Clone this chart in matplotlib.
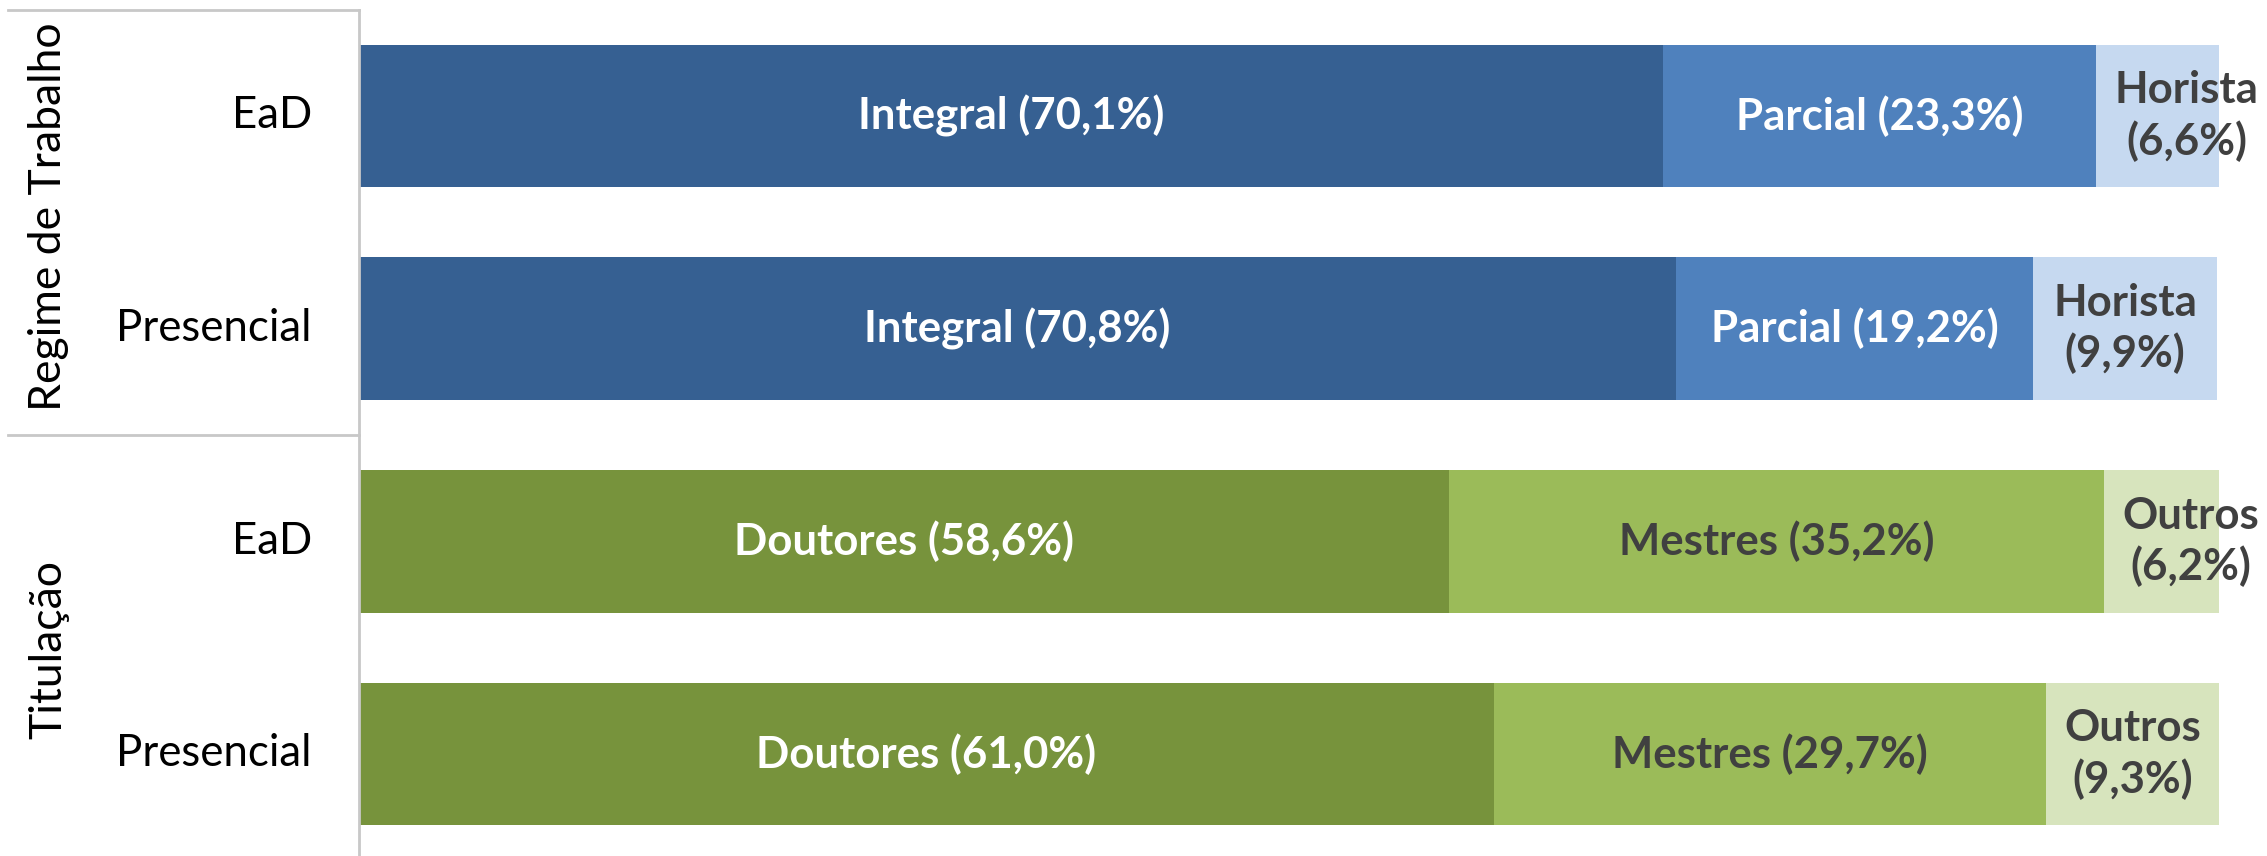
import matplotlib.pyplot as plt
import numpy as np

plt.rcParams['font.family'] = ['Lato', 'DejaVu Sans']

# data
row_labels = ['EaD', 'Presencial', 'EaD', 'Presencial']
groups = ['Regime de Trabalho', 'Titulação']
seg_names = [['Integral', 'Parcial', 'Horista'],
             ['Doutores', 'Mestres', 'Outros']]
regime_ead = [70.1, 23.3, 6.6]
regime_pres = [70.8, 19.2, 9.9]
tit_ead = [58.6, 35.2, 6.2]
tit_pres = [61.0, 29.7, 9.3]

values = [regime_ead, regime_pres, tit_ead, tit_pres]
row_group = [0, 0, 1, 1]

colors = [['#366092', '#4f81bd', '#c6d9f0'],
          ['#77933c', '#9bbb59', '#d7e4bd']]
txt_colors = [['white', 'white', '#404040'],
              ['white', '#404040', '#404040']]

fig = plt.figure(figsize=(22.67, 8.56), dpi=100)
ax = fig.add_axes([359/2267, -0.005, 1860/2267, 0.9937])

for i, vals in enumerate(values):
    g = row_group[i]
    left = 0
    for j, v in enumerate(vals):
        ax.barh(i, v, left=left, height=0.67, color=colors[g][j], edgecolor='none')
        label = f"{v:.1f}".replace('.', ',')
        if j == 2:
            text = f"{seg_names[g][j]}\n({label}%)"
        else:
            text = f"{seg_names[g][j]} ({label}%)"
        # small segments: label nudged right like the original
        dx = 21 if v < 8 else 0
        ax.annotate(text, (left + v/2, i), xytext=(dx, 0), textcoords='offset points',
                    ha='center', va='center', fontsize=31.5, fontweight='bold',
                    color=txt_colors[g][j], linespacing=1.28)
        left += v

ax.set_xlim(0, 100)
ax.set_ylim(3.5, -0.5)
ax.set_xticks([])
ax.set_yticks([])
for s in ['top', 'right', 'bottom']:
    ax.spines[s].set_visible(False)
ax.spines['left'].set_color('#c8c8c8')
ax.spines['left'].set_linewidth(2)

trans = ax.get_yaxis_transform()
for i, lab in enumerate(row_labels):
    ax.text(-0.0253, i, lab, transform=trans, ha='right', va='center', fontsize=31.5, color='black')

group_y = [0.475, 2.51]
for k, g in enumerate(groups):
    ax.text(-0.167, group_y[k], g, transform=trans, ha='center', va='center',
            rotation=90, fontsize=32, color='black')

# group separator lines
for yy in [-0.5, 1.5]:
    ax.plot([-0.1887, 0], [yy, yy], transform=trans, color='#c8c8c8', lw=2, clip_on=False)

fig.savefig('out.png', dpi=100)
